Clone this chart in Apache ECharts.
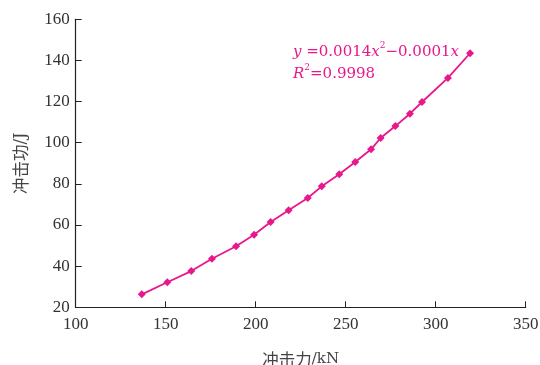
<!DOCTYPE html>
<html>
<head>
<meta charset="utf-8">
<script src="https://cdn.jsdelivr.net/npm/echarts@6/dist/echarts.min.js"></script>
<style>html,body{margin:0;padding:0;background:#fff}#c{width:540px;height:365px}</style>
</head>
<body>
<div id="c"></div>
<script>
var forceKN = [136.7, 150.9, 164.2, 175.7, 189.1, 199.1, 208.3, 218.3, 228.9, 236.7, 246.4, 255.3, 264.1, 269.4, 277.6, 285.7, 292.4, 306.8, 319.1];
var energyJ = [26.3, 32.2, 37.6, 43.6, 49.7, 55.3, 61.5, 67.2, 73.1, 78.8, 84.7, 90.6, 96.8, 102.3, 108.1, 114.1, 119.8, 131.5, 143.5];
var xTicks = [100, 150, 200, 250, 300, 350];
var yTicks = [20, 40, 60, 80, 100, 120, 140, 160];

var color = '#e8178b';
var axisColor = '#222';
var numFont = 'Liberation Serif';
var eqFont = 'DejaVu Serif';
var cjkFont = 'Noto Sans CJK SC';

var chart = echarts.init(document.getElementById('c'), null, {renderer: 'canvas'});
chart.setOption({
  animation: false,
  backgroundColor: '#fff',
  grid: {left: 75.7, right: 14.3, top: 19.3, bottom: 57.7, containLabel: false, outerBoundsMode: 'none'},
  xAxis: {
    type: 'value', min: xTicks[0], max: xTicks[xTicks.length - 1], interval: 50,
    name: '{a|冲击力}{b|/kN}', nameLocation: 'middle', nameGap: 44,
    nameTextStyle: {rich: {a: {fontFamily: cjkFont, fontSize: 16.5, color: '#444'}, b: {fontFamily: eqFont, fontSize: 15, color: '#444'}}},
    axisLine: {lineStyle: {color: axisColor, width: 1.2}},
    axisTick: {inside: true, length: 6, lineStyle: {color: axisColor}},
    axisLabel: {fontFamily: numFont, fontSize: 17, color: '#333', margin: 9},
    splitLine: {show: false}
  },
  yAxis: {
    type: 'value', min: yTicks[0], max: yTicks[yTicks.length - 1], interval: 20,
    name: '{a|冲击功}{b|/J}', nameLocation: 'middle', nameGap: 47, nameRotate: 90,
    nameTextStyle: {rich: {a: {fontFamily: cjkFont, fontSize: 16.5, color: '#444'}, b: {fontFamily: eqFont, fontSize: 16, color: '#444'}}},
    axisLine: {show: true, lineStyle: {color: axisColor, width: 1.2}},
    axisTick: {show: true, inside: true, length: 6, lineStyle: {color: axisColor}},
    axisLabel: {fontFamily: numFont, fontSize: 17, color: '#333', margin: 6},
    splitLine: {show: false}
  },
  graphic: [{
    type: 'text', left: 293, top: 41,
    style: {
      text: '{i|y} =0.0014{i|x}{s|2}−0.0001{i|x}\n{i|R}{s|2}=0.9998',
      fill: color, font: '15px "DejaVu Serif"', lineHeight: 22,
      rich: {
        i: {fontStyle: 'italic', fontFamily: eqFont, fontSize: 15, fill: color, color: color},
        s: {fontFamily: eqFont, fontSize: 9, verticalAlign: 'top', fill: color, color: color, padding: [0, 0, 8, 0]}
      }
    }
  }],
  series: [{
    type: 'line',
    data: forceKN.map(function (x, i) { return [x, energyJ[i]]; }),
    symbol: 'diamond', symbolSize: 8,
    lineStyle: {color: color, width: 1.8},
    itemStyle: {color: color}
  }]
});
</script>
</body>
</html>
